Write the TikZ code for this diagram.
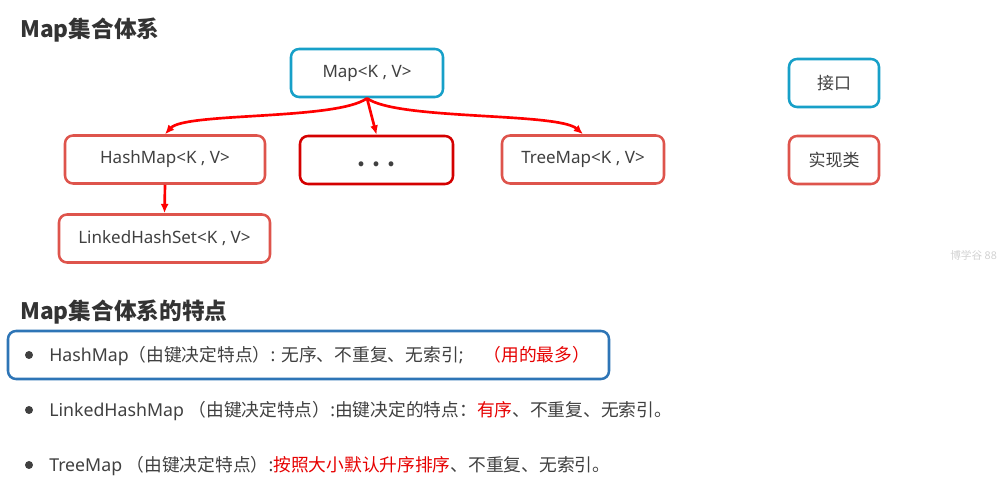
\documentclass[tikz,border=0pt]{standalone}
\usepackage{fontspec}
\setmainfont{Noto Sans CJK SC}
\newfontfamily\latfont{Noto Sans}
\usetikzlibrary{arrows.meta}
\definecolor{ifblue}{RGB}{23,160,200}
\definecolor{implred}{RGB}{222,84,76}
\definecolor{dotred}{RGB}{212,0,0}
\definecolor{arrowred}{RGB}{255,0,0}
\definecolor{hlblue}{RGB}{46,117,182}
\definecolor{txtgray}{RGB}{64,64,64}
\definecolor{headgray}{RGB}{51,51,51}
\definecolor{keyred}{RGB}{230,0,0}
\newcommand{\lat}[1]{{\latfont #1}}

\begin{document}
\begin{tikzpicture}[x=0.75pt, y=-0.75pt,
    >={Latex[length=7pt,width=6pt]},   % arrow tips
    box/.style={draw=ifblue, line width=1.9pt, rounded corners=6pt, minimum height=36pt,
      inner sep=0pt, text=txtgray, font=\fontsize{12.75}{15}\selectfont},
    iface/.style={box},
    impl/.style={box, draw=implred},
    link/.style={->, arrowred, line width=2pt},
    bodytext/.style={anchor=base west, inner sep=0pt, text=txtgray, font=\fontsize{13.3}{16}\selectfont},
    heading/.style={anchor=west, inner sep=0pt, text=headgray, font=\bfseries\fontsize{17}{20}\selectfont}]
  \useasboundingbox (0,0) rectangle (1000,498);
  % headings
  \node[heading] (head1) at (20,30) {Map集合体系};
  \node[heading] (head2) at (20,312) {Map集合体系的特点};
  % tree of types
  \node[iface, minimum width=114pt] (map) at (367,73) {\lat{Map<K , V>}};
  \node[impl, minimum width=150pt] (hashmap) at (165,159.5) {\lat{HashMap<K , V>}};
  \node[impl, draw=dotred, minimum width=114.75pt, text height=6pt, text depth=6pt] (dots) at (376.5,160)
    {\fontsize{17}{20}\selectfont\bfseries\raisebox{-5pt}{.\hspace{5pt}.\hspace{5pt}.}};
  \node[impl, minimum width=121.5pt] (treemap) at (583,159.5) {\lat{TreeMap<K , V>}};
  \node[impl, minimum width=158.25pt] (linked) at (164.5,238.5) {\lat{LinkedHashSet<K , V>}};
  % legend
  \node[iface, minimum width=67.5pt] (legif) at (834,83) {接口};
  \node[impl, minimum width=67.5pt] (legimpl) at (834,160) {实现类};
  % arrows
  \draw[link] (map.south) .. controls +(-30,22) and +(20,-22) .. (hashmap.north);
  \draw[link] (map.south) -- (dots.north);
  \draw[link] (map.south) .. controls +(30,22) and +(-25,-22) .. (treemap.north);
  \draw[link] (hashmap.south) -- (linked.north);
  % watermark
  \node[anchor=west, inner sep=0pt, text=gray!35, font=\fontsize{8}{10}\selectfont] (mark) at (950,255) {博学谷 \lat{88}};
  % features
  \draw[hlblue, line width=1.9pt, rounded corners=6pt] (8,331) rectangle (609,379);
  \foreach \y in {355,410,465} \fill[txtgray] (29,\y) circle (3pt);
  \node[bodytext] (feat1) at (49,362) {\lat{HashMap}（由键决定特点）\lat{: }无序、不重复、无索引\lat{;}\hspace{15pt}\textcolor{keyred}{（用的最多）}};
  \node[bodytext] (feat2) at (49,417) {\lat{LinkedHashMap }（由键决定特点）\lat{:}由键决定的特点：\textcolor{keyred}{有序}、不重复、无索引。};
  \node[bodytext] (feat3) at (49,472) {\lat{TreeMap }（由键决定特点）\lat{:}\textcolor{keyred}{按照大小默认升序排序}、不重复、无索引。};
\end{tikzpicture}
\end{document}
